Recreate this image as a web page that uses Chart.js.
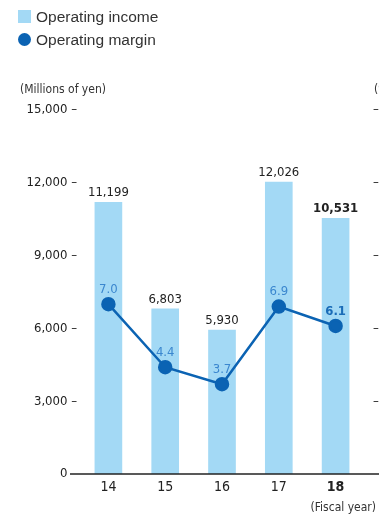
<!DOCTYPE html>
<html>
<head>
<meta charset="utf-8">
<script src="https://cdn.jsdelivr.net/npm/chart.js@4"></script>
<style>
  html, body { margin: 0; padding: 0; background: #fff; overflow: hidden; }
  #wrap { position: relative; width: 440px; height: 520px; }
  .legend { position: absolute; left: 18px; font: 15.5px "Liberation Sans", Arial, sans-serif; color: #333; }
  .legend span { display: inline-block; width: 13px; height: 13px; margin-right: 5px; vertical-align: -1px; }
</style>
</head>
<body>
<div id="wrap">
  <div class="legend" style="top:8px"><span style="background:#a3d9f5"></span>Operating income</div>
  <div class="legend" style="top:31px"><span style="background:#0b63b3;border-radius:50%"></span>Operating margin</div>
  <canvas id="opChart" width="440" height="520"></canvas>
</div>
<script>
const years = ['14', '15', '16', '17', '18'];
const income = [11199, 6803, 5930, 12026, 10531];
const margin = [7.0, 4.4, 3.7, 6.9, 6.1];
const incomeTicks = [0, 3000, 6000, 9000, 12000, 15000];
const marginTicks = [0, 3, 6, 9, 12, 15];

const narrow = "'Liberation Sans Narrow', 'DejaVu Sans Condensed', Roboto, sans-serif";
const latest = years.length - 1;

// value labels, axis caption and the base line
const extras = {
  id: 'extras',
  afterDatasetsDraw(chart) {
    const ctx = chart.ctx;
    ctx.save();
    ctx.textAlign = 'center';
    ctx.textBaseline = 'bottom';
    chart.getDatasetMeta(1).data.forEach((bar, i) => {
      ctx.font = (i === latest ? 'bold ' : '') + '13px ' + narrow;
      ctx.fillStyle = '#222';
      ctx.fillText(income[i].toLocaleString('en-US'), bar.x, bar.y - 3);
    });
    chart.getDatasetMeta(0).data.forEach((pt, i) => {
      ctx.font = (i === latest ? 'bold ' : '') + '13px ' + narrow;
      ctx.fillStyle = i === latest ? '#1a6cb8' : '#3b87cf';
      ctx.fillText(margin[i].toFixed(1), pt.x, pt.y - 8);
    });
    ctx.restore();
  },
  afterDraw(chart) {
    const ctx = chart.ctx;
    const y0 = chart.scales.y.getPixelForValue(0);
    ctx.save();
    ctx.strokeStyle = '#222';
    ctx.lineWidth = 1.5;
    ctx.beginPath();
    ctx.moveTo(70, y0);
    ctx.lineTo(chart.width, y0);
    ctx.stroke();
    ctx.fillStyle = '#333';
    ctx.font = '12px ' + narrow;
    ctx.textBaseline = 'middle';
    ctx.textAlign = 'left';
    ctx.fillText('(Millions of yen)', 20, 90);
    ctx.fillText('(%)', 374, 90);
    ctx.textAlign = 'right';
    ctx.fillText('(Fiscal year)', 376, 508);
    ctx.restore();
  }
};

new Chart(document.getElementById('opChart'), {
  data: {
    labels: years,
    datasets: [{
      type: 'line',
      label: 'Operating margin',
      data: margin,
      yAxisID: 'y1',
      borderColor: '#0b63b3',
      backgroundColor: '#0b63b3',
      borderWidth: 2.5,
      pointRadius: 6,
      pointHoverRadius: 6,
      order: 0
    }, {
      type: 'bar',
      label: 'Operating income',
      data: income,
      yAxisID: 'y',
      backgroundColor: '#a3d9f5',
      barThickness: 27,
      order: 1
    }]
  },
  options: {
    responsive: false,
    animation: false,
    layout: { padding: { top: 110, left: 0, right: 0, bottom: 0 } },
    plugins: { legend: { display: false }, tooltip: { enabled: false } },
    scales: {
      x: {
        grid: { display: false, drawTicks: false },
        border: { display: false },
        ticks: {
          padding: 5,
          color: '#222',
          font: (c) => ({ family: narrow, size: 14, weight: c.index === latest ? 'bold' : 'normal' })
        },
        afterFit(s) { s.height = 46; }
      },
      y: {
        position: 'left',
        min: 0,
        max: 15000,
        afterBuildTicks(s) { s.ticks = incomeTicks.map(v => ({ value: v })); },
        grid: { display: false, drawTicks: false },
        border: { display: false },
        ticks: {
          padding: 3,
          color: '#222',
          font: { family: narrow, size: 13 },
          // zero has no dash, the base line starts there instead
          callback: (v) => v === 0 ? '0 \u2002' : v.toLocaleString('en-US') + ' –'
        },
        afterFit(s) { s.width = 80; }
      },
      y1: {
        position: 'right',
        min: 0,
        max: 15,
        afterBuildTicks(s) { s.ticks = marginTicks.map(v => ({ value: v })); },
        grid: { display: false, drawTicks: false },
        border: { display: false },
        ticks: {
          padding: 9,
          color: '#222',
          font: { family: narrow, size: 13 },
          callback: (v) => v === 0 ? '' : '– ' + v
        },
        afterFit(s) { s.width = 76; }
      }
    }
  },
  plugins: [extras]
});
</script>
</body>
</html>
